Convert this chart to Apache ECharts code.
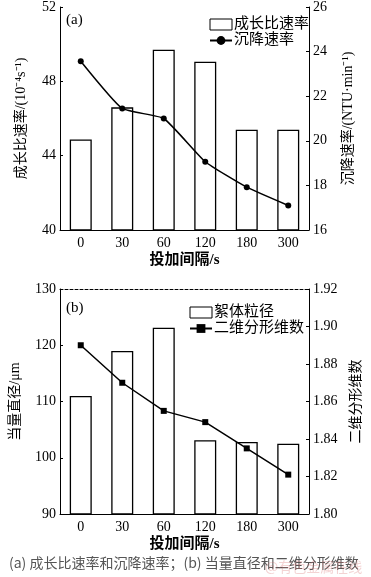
<!DOCTYPE html>
<html><head><meta charset="utf-8">
<script src="https://cdn.jsdelivr.net/npm/echarts@6/dist/echarts.min.js"></script>
<style>html,body{margin:0;padding:0;background:#fff;}#c{width:371px;height:577px;}</style>
</head><body><div id="c"></div>
<script>
const categories = ['0','30','60','120','180','300'];
const growthRate = [44.87, 46.6, 49.7, 49.05, 45.4, 45.4];
const settlingRate = [23.57, 21.45, 21.0, 19.06, 17.92, 17.1];
const flocSize = [111.0, 119.0, 123.1, 103.1, 102.8, 102.5];
const fractalDim = [1.890, 1.870, 1.855, 1.849, 1.835, 1.821];

const SERIF = '"Liberation Serif","Noto Sans CJK SC",serif';
const CJK = '"Noto Sans CJK SC","Liberation Serif",sans-serif';
const chart = echarts.init(document.getElementById('c'), null, {renderer:'canvas'});

function xAx(gi){
  return {type:'category', gridIndex:gi, data:categories,
    axisLine:{lineStyle:{color:'#000',width:1}}, axisTick:{show:false},
    axisLabel:{color:'#000', fontFamily:SERIF, fontSize:14, margin:6},
    name:'投加间隔/s', nameLocation:'middle', nameGap:23,
    nameTextStyle:{color:'#000', fontFamily:SERIF, fontSize:15, fontWeight:'bold'}};
}
function yAx(gi, pos, min, max, interval, name, nameGap, fmt){
  return {type:'value', gridIndex:gi, position:pos, min:min, max:max, interval:interval,
    splitLine:{show:false},
    axisLine:{show:true, lineStyle:{color:'#000',width:1}},
    axisTick:{show:true, inside:true, length:3, lineStyle:{color:'#000'}},
    axisLabel:{color:'#000', fontFamily:SERIF, fontSize:14, margin:4, formatter:fmt},
    name:name, nameLocation:'middle', nameGap:nameGap,
    nameTextStyle:{color:'#000', fontFamily:SERIF, fontSize:14}};
}

chart.setOption({
  animation:false,
  backgroundColor:'#fff',
  grid:[{left:60, top:6, width:249, height:224},
        {left:60, top:289, width:249, height:225}],
  xAxis:[xAx(0), xAx(1),
    {type:'category', gridIndex:1, position:'top', data:categories,
     axisLine:{lineStyle:{color:'#000',type:[3,2],width:1}}, axisTick:{show:false}, axisLabel:{show:false}}],
  yAxis:[
    yAx(0,'left',40,52,4,'成长比速率/(10⁻⁴s⁻¹)',32),
    yAx(0,'right',16,26,2,'沉降速率/(NTU·min⁻¹)',32),
    yAx(1,'left',90,130,10,'当量直径/μm',38),
    yAx(1,'right',1.80,1.92,0.02,'二维分形维数',40, v=>v.toFixed(2))
  ],
  legend:[
    {data:[{name:'成长比速率', icon:'rect'},'沉降速率'], orient:'vertical', left:204, top:12, itemGap:1,
     itemWidth:22, itemHeight:11, itemStyle:{borderWidth:1},
     textStyle:{fontFamily:SERIF, fontSize:15, color:'#000', padding:[0,0,0,-3]}},
    {data:[{name:'絮体粒径', icon:'rect'},'二维分形维数'], orient:'vertical', left:184, top:300, itemGap:1,
     itemWidth:22, itemHeight:11, itemStyle:{borderWidth:1},
     textStyle:{fontFamily:SERIF, fontSize:15, color:'#000', padding:[0,0,0,-3]}}
  ],
  series:[
    {name:'成长比速率', type:'bar', xAxisIndex:0, yAxisIndex:0, data:growthRate, barWidth:22,
     itemStyle:{color:'#fff', borderColor:'#000', borderWidth:1.3}},
    {name:'沉降速率', type:'line', xAxisIndex:0, yAxisIndex:1, data:settlingRate, smooth:0.15,
     symbol:'circle', symbolSize:6, lineStyle:{color:'#000',width:1.5}, itemStyle:{color:'#000'}},
    {name:'絮体粒径', type:'bar', xAxisIndex:1, yAxisIndex:2, data:flocSize, barWidth:22,
     itemStyle:{color:'#fff', borderColor:'#000', borderWidth:1.3}},
    {name:'二维分形维数', type:'line', xAxisIndex:1, yAxisIndex:3, data:fractalDim,
     symbol:'rect', symbolSize:6, lineStyle:{color:'#000',width:1.5}, itemStyle:{color:'#000'}}
  ],
  graphic:[
    {type:'text', left:66, top:13, style:{text:'(a)', font:'15px '+SERIF, fill:'#000'}},
    {type:'text', left:66, top:301, style:{text:'(b)', font:'15px '+SERIF, fill:'#000'}},
    {type:'text', left:9, top:556, style:{text:'(a) 成长比速率和沉降速率；(b) 当量直径和二维分形维数', font:'14px '+CJK, fill:'#555'}},
    {type:'text', left:265, top:560, style:{text:'@有色金属在线', font:'14px '+CJK, fill:'rgba(215,110,110,0.3)'}}
  ]
});
</script></body></html>
